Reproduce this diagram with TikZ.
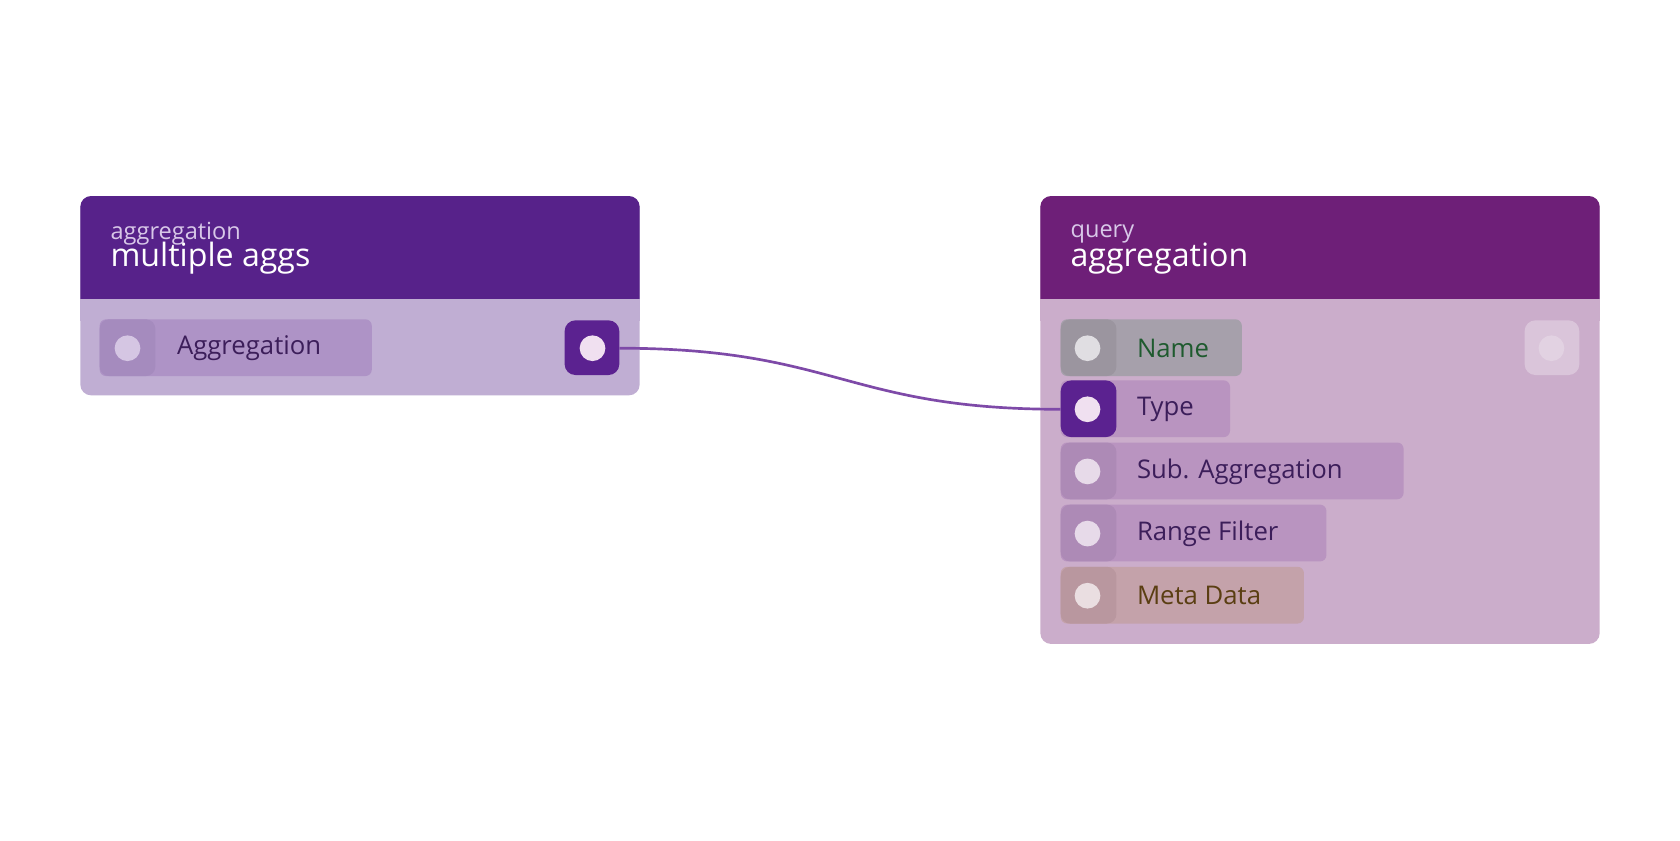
\documentclass[tikz,border=0pt]{standalone}
\usepackage{fontspec}
\setmainfont{Open Sans}
\definecolor{hdrA}{HTML}{57228A}
\definecolor{bodyA}{HTML}{C0AED3}
\definecolor{hdrB}{HTML}{6E1F78}
\definecolor{bodyB}{HTML}{CBADCB}
\definecolor{pillA}{HTML}{AE93C6}
\definecolor{sockA}{HTML}{A58BBE}
\definecolor{pillP}{HTML}{B994C0}
\definecolor{sockP}{HTML}{AD8AB6}
\definecolor{pillG}{HTML}{A6A0AB}
\definecolor{sockG}{HTML}{9B959F}
\definecolor{pillM}{HTML}{C4A2AA}
\definecolor{sockM}{HTML}{B9979F}
\definecolor{active}{HTML}{5B2290}
\definecolor{dot}{HTML}{D5C6E3}
\definecolor{txtP}{HTML}{3C1E5A}
\definecolor{txtG}{HTML}{1E5A2E}
\definecolor{txtM}{HTML}{5A3E12}
\definecolor{wire}{HTML}{7E4AA8}
\definecolor{subt}{HTML}{D8C8E8}
\tikzset{
 lbl/.style={anchor=west,inner sep=0pt,font=\fontsize{24}{24}\selectfont},
 sub/.style={anchor=west,inner sep=0pt,font=\fontsize{22}{22}\selectfont,text=subt},
 ttl/.style={anchor=west,inner sep=0pt,font=\fontsize{30}{30}\selectfont,text=white},
}
\newcommand{\nodebox}[5]{% x1,x2,y2,hdr,body
 \fill[#5,rounded corners=10pt] (#1,183) rectangle (#2,#3);
 \fill[#4,rounded corners=10pt] (#1,183) rectangle (#2,295);
 \fill[#5] (#1,279) rectangle (#2,300);}
\newcommand{\pill}[6]{% y, x2, pillcol, sockcol, dotcol, name
 \fill[#3,rounded corners=6pt] (990,#1-27) rectangle (#2,#1+26);
 \fill[#4,rounded corners=9pt] (990,#1-27) rectangle (1042,#1+26);
 \fill[#5] (1015,#1) circle (12);
 \coordinate (#6) at (1015,#1);}
\begin{document}
\begin{tikzpicture}[x=1pt,y=-1pt]
\useasboundingbox (0,0) rectangle (1568,784);
\fill[white] (0,0) rectangle (1568,784);
% left node
\nodebox{75}{597}{369}{hdrA}{bodyA}
\node[sub] (s1) at (103,218) {aggregation};
\node[ttl] (t1) at (103,241) {multiple aggs};
\fill[pillA,rounded corners=6pt] (93,298) rectangle (347,351);
\fill[sockA,rounded corners=9pt] (93,298) rectangle (145,351);
\fill[dot] (119,325) circle (12);
\node[lbl,text=txtP] (a1) at (165,325) {Aggregation};
\fill[active,rounded corners=10pt] (527,299) rectangle (578,350);
\fill[white!88!violet] (553,325) circle (12);
\coordinate (out1) at (553,325);
% right node
\nodebox{971}{1493}{601}{hdrB}{bodyB}
\node[sub] (s2) at (999,218) {query};
\node[ttl] (t2) at (999,241) {aggregation};
\fill[white!60!bodyB,opacity=0.5,rounded corners=10pt] (1423,299) rectangle (1474,350);
\fill[white!45!bodyB] (1448,325) circle (12);
\pill{325}{1159}{pillG}{sockG}{white!65!pillG}{inName}
\node[lbl,text=txtG] (n1) at (1061,325) {Name};
\fill[pillP,rounded corners=6pt] (990,355) rectangle (1148,408);
\fill[active,rounded corners=10pt] (990,355) rectangle (1042,408);
\fill[white!88!violet] (1015,382) circle (12);
\coordinate (inType) at (1015,382);
\node[lbl,text=txtP] (n2) at (1061,382) {Type};
\pill{440}{1310}{pillP}{sockP}{white!65!pillP}{inSub}
\node[lbl,text=txtP] (n3) at (1061,440) {Sub. Aggregation};
\pill{498}{1238}{pillP}{sockP}{white!65!pillP}{inRange}
\node[lbl,text=txtP] (n4) at (1061,498) {Range Filter};
\pill{556}{1217}{pillM}{sockM}{white!65!pillM}{inMeta}
\node[lbl,text=txtM] (n5) at (1061,556) {Meta Data};
% wire
\begin{scope}[on background layer/.style={}]
\draw[wire,line width=2.5pt] (578,325) .. controls (780,325) and (790,382) .. (990,382);
\end{scope}
\end{tikzpicture}
\end{document}
